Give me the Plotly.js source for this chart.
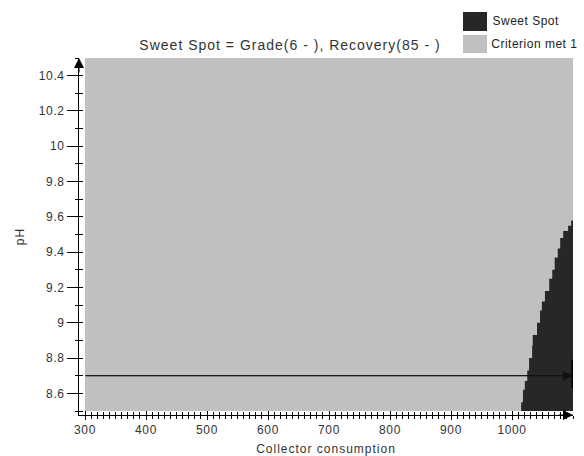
<!DOCTYPE html>
<html><head>
<script src="https://cdn.plot.ly/plotly-3.0.1.min.js"></script>
<style>
body{margin:0;background:#fff}
#chart .gtitle{letter-spacing:1px}
#chart .xtitle, #chart .ytitle{letter-spacing:1px}
#chart .xtick text, #chart .ytick text{letter-spacing:0.6px}
#chart .annotation-text{letter-spacing:0.5px}
</style>
</head><body>
<div id="chart" style="width:584px;height:456px"></div>
<script>
// ---- data ----
const consumptionRange = [300, 1100];
const phRange = [8.5, 10.5];
// pH band edges of the sweet-spot staircase (lower edge of each band, plus top)
const bandEdges = [8.50, 8.55, 8.62, 8.67, 8.73, 8.80, 8.87, 8.93, 9.00, 9.07, 9.12, 9.18, 9.25, 9.30, 9.37, 9.42, 9.48, 9.52, 9.55, 9.58];
// minimum collector consumption in the sweet spot for each band
const bandMinConsumption = [1015, 1018, 1021, 1025, 1028, 1033, 1034, 1041, 1046, 1049, 1054, 1061, 1066, 1070, 1075, 1079, 1084, 1092, 1097];
const cursorPH = 8.7;
const xTickVals = [300, 400, 500, 600, 700, 800, 900, 1000];
const yTickVals = [8.6, 8.8, 9, 9.2, 9.4, 9.6, 9.8, 10, 10.2, 10.4];
const legendLabels = ['Sweet Spot', 'Criterion met 1'];
const legendColors = ['#272727', '#c0c0c0'];
const chartTitle = 'Sweet Spot = Grade(6 - ), Recovery(85 - )';

// ---- geometry (pixels) ----
const W = 584, H = 456;
const M = {l: 79, r: 11, t: 58, b: 41};
const pw = W - M.l - M.r, ph = H - M.t - M.b;
const pxPerX = 0.61, pxPerY = 176.5;
const xAxisRange = [consumptionRange[0] - 6 / pxPerX, consumptionRange[1]];
const yAxisRange = [phRange[0] - 4 / pxPerY, phRange[0] + (ph - 4) / pxPerY];
const px = (x) => (x - M.l) / pw;
const py = (y) => (H - M.b - y) / ph;

// sweet spot polygon
const sx = [consumptionRange[1], bandMinConsumption[0]];
const sy = [bandEdges[0], bandEdges[0]];
for (let i = 0; i < bandMinConsumption.length; i++) {
  sx.push(bandMinConsumption[i], bandMinConsumption[i]);
  sy.push(bandEdges[i], bandEdges[i + 1]);
}
sx.push(consumptionRange[1]);
sy.push(bandEdges[bandEdges.length - 1]);

const traces = [
  {x: [consumptionRange[0], consumptionRange[1], consumptionRange[1], consumptionRange[0]],
   y: [phRange[0], phRange[0], phRange[1], phRange[1]],
   type: 'scatter', mode: 'lines', fill: 'toself', fillcolor: legendColors[1],
   line: {width: 0}, hoverinfo: 'skip', showlegend: false, name: legendLabels[1]},
  {x: sx, y: sy, type: 'scatter', mode: 'lines', fill: 'toself', fillcolor: legendColors[0],
   line: {width: 0, color: legendColors[0]}, hoverinfo: 'skip', showlegend: false, name: legendLabels[0]},
  {x: [consumptionRange[0]], y: [phRange[0]], xaxis: 'x2', yaxis: 'y2', type: 'scatter', mode: 'markers',
   marker: {opacity: 0}, hoverinfo: 'skip', showlegend: false}
];

const font = {family: 'Liberation Sans, Arial, sans-serif', size: 12, color: '#333'};
const axBase = {showgrid: false, zeroline: false, showline: true, linecolor: '#000', linewidth: 1,
  tickcolor: '#000', tickfont: font, fixedrange: true};

const layout = {
  width: W, height: H, margin: M, paper_bgcolor: '#fff', plot_bgcolor: '#fff',
  font: font, showlegend: false,
  title: {text: chartTitle, x: 290 / W, xanchor: 'center', y: 1 - 45 / H, yanchor: 'middle',
    font: {family: font.family, size: 14, color: '#333'}},
  xaxis: Object.assign({}, axBase, {range: xAxisRange, tickvals: xTickVals, ticks: 'outside', ticklen: 4,
    minor: {dtick: 10, tick0: 300, ticks: 'outside', ticklen: 3, tickcolor: '#000'},
    title: {text: 'Collector consumption', font: font, standoff: 10}}),
  yaxis: Object.assign({}, axBase, {range: yAxisRange, tickvals: yTickVals, ticktext: yTickVals.map(String),
    ticks: 'outside', ticklen: 11,
    minor: {dtick: 0.1, tick0: 8.5, ticks: 'outside', ticklen: 3, tickcolor: '#000'},
    title: {text: 'pH', font: font, standoff: 14}}),
  xaxis2: Object.assign({}, axBase, {range: xAxisRange, overlaying: 'x', anchor: 'y2', side: 'bottom',
    tickvals: xTickVals, ticks: 'inside', ticklen: 4, showticklabels: false,
    minor: {dtick: 10, tick0: 300, ticks: 'inside', ticklen: 3, tickcolor: '#000'}}),
  yaxis2: Object.assign({}, axBase, {range: yAxisRange, overlaying: 'y', anchor: 'x2', side: 'left',
    dtick: 0.1, tick0: 8.5, ticks: 'inside', ticklen: 4, showticklabels: false}),
  shapes: [
    {type: 'line', xref: 'x', yref: 'y', x0: consumptionRange[0], x1: consumptionRange[1], y0: cursorPH, y1: cursorPH,
     line: {color: '#222', width: 1}},
    {type: 'line', xref: 'x', yref: 'y', x0: consumptionRange[1], x1: consumptionRange[1], y0: cursorPH - 0.07, y1: cursorPH + 0.09,
     line: {color: '#000', width: 3}},
    {type: 'rect', xref: 'paper', yref: 'paper', x0: px(463), x1: px(487), y0: py(31), y1: py(12),
     fillcolor: legendColors[0], line: {width: 0}},
    {type: 'rect', xref: 'paper', yref: 'paper', x0: px(463), x1: px(487), y0: py(53), y1: py(35),
     fillcolor: legendColors[1], line: {width: 0}}
  ],
  annotations: [
    {text: legendLabels[0], xref: 'paper', yref: 'paper', x: px(493), y: py(21), xanchor: 'left', yanchor: 'middle',
     showarrow: false, font: {family: font.family, size: 12, color: '#222'}},
    {text: legendLabels[1], xref: 'paper', yref: 'paper', x: px(493), y: py(44), xanchor: 'left', yanchor: 'middle',
     showarrow: false, font: {family: font.family, size: 12, color: '#222'}},
    // cursor arrow
    {x: consumptionRange[1], y: cursorPH, xref: 'x', yref: 'y', ax: consumptionRange[0], ay: cursorPH, axref: 'x', ayref: 'y',
     showarrow: true, arrowhead: 2, arrowsize: 2, arrowwidth: 1, arrowcolor: '#111', text: ''},
    // axis arrows
    {x: xAxisRange[1], y: yAxisRange[0], xref: 'x', yref: 'y', ax: -16, ay: 0,
     showarrow: true, arrowhead: 2, arrowsize: 2, arrowwidth: 1, arrowcolor: '#000', text: ''},
    {x: xAxisRange[0], y: yAxisRange[1], xref: 'x', yref: 'y', ax: 0, ay: 16,
     showarrow: true, arrowhead: 2, arrowsize: 2, arrowwidth: 1, arrowcolor: '#000', text: ''}
  ]
};

Plotly.newPlot('chart', traces, layout, {displayModeBar: false, staticPlot: true});
</script>
</body></html>
